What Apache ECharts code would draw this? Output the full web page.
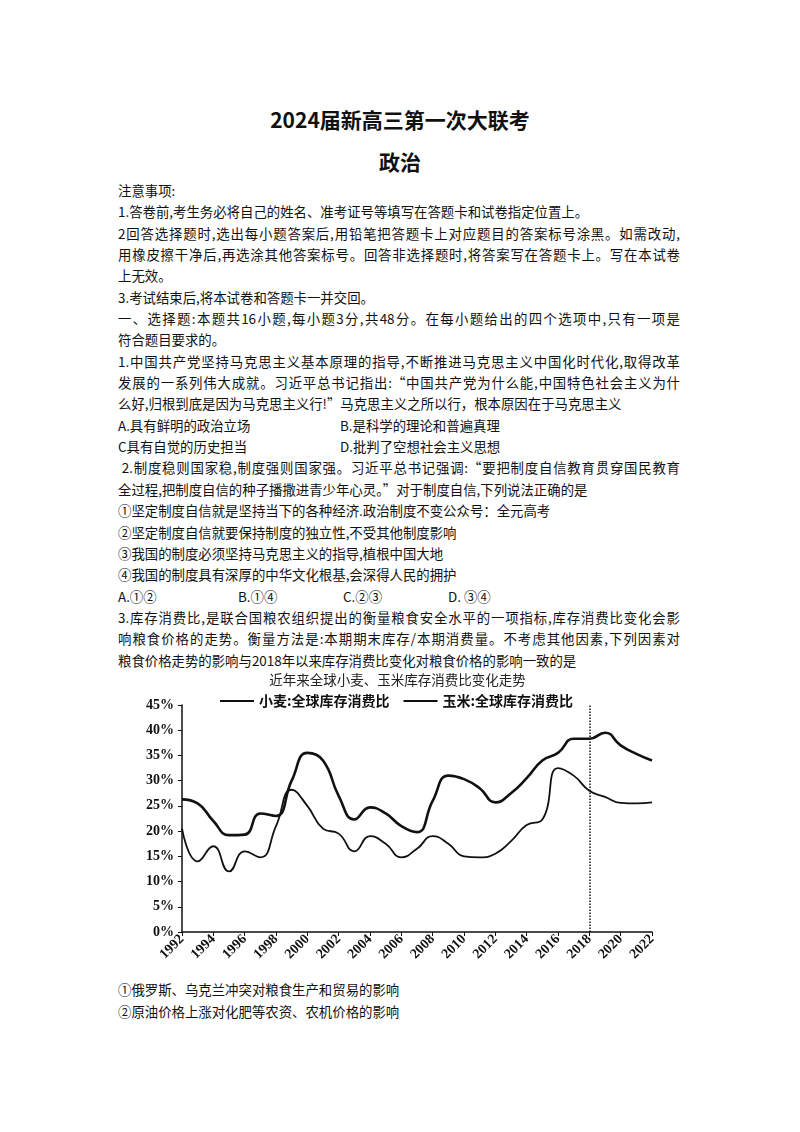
<!DOCTYPE html>
<html><head><meta charset="utf-8">
<script src="https://cdn.jsdelivr.net/npm/echarts@6/dist/echarts.min.js"></script>
<style>
body{margin:0;background:#fff;font-family:"Noto Sans CJK SC",serif;color:#111}
#page{position:relative;width:800px;height:1132px}
.t{position:absolute;left:0;width:800px;text-align:center;font-weight:bold}
#body{position:absolute;left:118px;top:180px;width:562px;font-size:13.4px;line-height:21.35px}
.j{text-align:justify;text-align-last:justify}
#chart{position:absolute;left:125px;top:665px;width:545px;height:310px}
#after{position:absolute;left:118px;top:979px;width:562px;font-size:13.4px;line-height:21.5px}
</style></head><body>
<div id="page">
<div class="t" style="top:104px;font-size:21px">2024届新高三第一次大联考</div>
<div class="t" style="top:146px;font-size:21px">政治</div>
<div id="body">
<div>注意事项:</div>
<div>1.答卷前,考生务必将自己的姓名、准考证号等填写在答题卡和试卷指定位置上。</div>
<div class="j">2回答选择题时,选出每小题答案后,用铅笔把答题卡上对应题目的答案标号涂黑。如需改动,</div>
<div class="j">用橡皮擦干净后,再选涂其他答案标号。回答非选择题时,将答案写在答题卡上。写在本试卷</div>
<div>上无效。</div>
<div>3.考试结束后,将本试卷和答题卡一并交回。</div>
<div class="j">一、选择题:本题共16小题,每小题3分,共48分。在每小题给出的四个选项中,只有一项是</div>
<div>符合题目要求的。</div>
<div class="j">1.中国共产党坚持马克思主义基本原理的指导,不断推进马克思主义中国化时代化,取得改革</div>
<div class="j">发展的一系列伟大成就。习近平总书记指出:“中国共产党为什么能,中国特色社会主义为什</div>
<div>么好,归根到底是因为马克思主义行!”马克思主义之所以行，根本原因在于马克思主义</div>
<div>A.具有鲜明的政治立场<span style="position:absolute;left:222px">B.是科学的理论和普遍真理</span></div>
<div>C具有自觉的历史担当<span style="position:absolute;left:222px">D.批判了空想社会主义思想</span></div>
<div class="j">&nbsp;2.制度稳则国家稳,制度强则国家强。习近平总书记强调:“要把制度自信教育贯穿国民教育</div>
<div>全过程,把制度自信的种子播撒进青少年心灵。”对于制度自信,下列说法正确的是</div>
<div>①坚定制度自信就是坚持当下的各种经济.政治制度不变公众号：全元高考</div>
<div>②坚定制度自信就要保持制度的独立性,不受其他制度影响</div>
<div>③我国的制度必须坚持马克思主义的指导,植根中国大地</div>
<div>④我国的制度具有深厚的中华文化根基,会深得人民的拥护</div>
<div>A.①②<span style="position:absolute;left:120px">B.①④</span><span style="position:absolute;left:225px">C.②③</span><span style="position:absolute;left:330px">D. ③④</span></div>
<div class="j">3.库存消费比,是联合国粮农组织提出的衡量粮食安全水平的一项指标,库存消费比变化会影</div>
<div class="j">响粮食价格的走势。衡量方法是:本期期末库存/本期消费量。不考虑其他因素,下列因素对</div>
<div>粮食价格走势的影响与2018年以来库存消费比变化对粮食价格的影响一致的是</div>
</div>
<div id="chart"></div>
<div id="after">
<div>①俄罗斯、乌克兰冲突对粮食生产和贸易的影响</div>
<div>②原油价格上涨对化肥等农资、农机价格的影响</div>
</div>
</div>
<script>
var years = [];
for (var y = 1992; y <= 2022; y++) years.push(String(y));
var wheat = [26.3,25.5,22,19.2,19.3,23.5,23,30,35.5,34,27,22.3,24.7,23.5,21,19.8,26,31,30.3,28.5,25.7,27.5,30.5,34,35.5,38.3,38.3,39.5,37,35.3,34];
var corn = [20.5,14,17,12,16,14.8,21,28.2,25,20.5,19.5,16,19,17.5,14.8,16.5,19,17.5,15,14.8,15.5,18,21.2,22.3,32.5,31,28,26.8,25.6,25.5,25.7];

var chart = echarts.init(document.getElementById('chart'));
chart.setOption({
    animation: false,
    title: {text: '近年来全球小麦、玉米库存消费比变化走势', left: 'center', top: 3,
        textStyle: {fontSize: 13.5, fontWeight: 'normal', color: '#222', fontFamily: 'Noto Sans CJK SC'}},
    legend: {top: 24, left: 90, itemWidth: 34, itemGap: 14, icon: 'rect', itemHeight: 2,
        textStyle: {fontSize: 14, fontWeight: 'bold', color: '#111', fontFamily: 'Noto Sans CJK SC'},
        data: ['小麦:全球库存消费比', '玉米:全球库存消费比']},
    grid: {left: 57, right: 18, top: 40, bottom: 43},
    xAxis: {type: 'category', data: years, boundaryGap: false,
        axisLine: {lineStyle: {color: '#111', width: 1.5}},
        axisTick: {interval: 1, length: 4, lineStyle: {color: '#111'}},
        axisLabel: {interval: 1, rotate: 45, fontSize: 14, fontWeight: 'bold', color: '#111', margin: 5, fontFamily: 'Liberation Serif'}},
    yAxis: {type: 'value', min: 0, max: 45, interval: 5, splitLine: {show: false},
        axisLine: {show: true, lineStyle: {color: '#111', width: 1.5}},
        axisTick: {show: true, length: 4, lineStyle: {color: '#111'}},
        axisLabel: {formatter: function (v) { return v + '%'; }, fontSize: 14, fontWeight: 'bold', color: '#111', fontFamily: 'Liberation Serif'}},
    series: [
        {name: '小麦:全球库存消费比', type: 'line', data: wheat, smooth: 0.5, symbol: 'none',
            lineStyle: {color: '#111', width: 2.6}, itemStyle: {color: '#111'},
            markLine: {symbol: 'none', silent: true, label: {show: false},
                lineStyle: {type: 'dotted', color: '#111', width: 1.5}, data: [{xAxis: '2018'}]}},
        {name: '玉米:全球库存消费比', type: 'line', data: corn, smooth: 0.5, symbol: 'none',
            lineStyle: {color: '#111', width: 1.8}, itemStyle: {color: '#111'}}
    ]
});
</script>
</body></html>
